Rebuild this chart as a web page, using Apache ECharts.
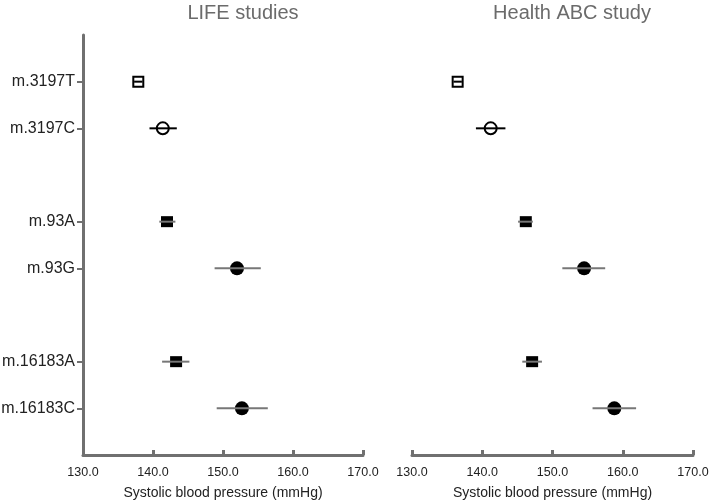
<!DOCTYPE html>
<html>
<head>
<meta charset="utf-8">
<script src="https://cdn.jsdelivr.net/npm/echarts@6/dist/echarts.min.js"></script>
<style>html,body{margin:0;padding:0;background:#fff}#c{width:709px;height:500px}</style>
</head>
<body>
<div id="c"></div>
<script>
// ---- data ----
const yLabels = ['', 'm.3197T', 'm.3197C', '', 'm.93A', 'm.93G', '', 'm.16183A', 'm.16183C', ''];
const categories = ['m.3197T', 'm.3197C', 'm.93A', 'm.93G', 'm.16183A', 'm.16183C'];
const lifeMean = [137.9, 141.4, 142.0, 152.0, 143.3, 152.7];
const lifeLow  = [137.3, 139.5, 140.9, 148.8, 141.3, 149.1];
const lifeHigh = [138.5, 143.4, 143.2, 155.4, 145.2, 156.4];
const abcMean  = [136.5, 141.2, 146.2, 154.5, 147.1, 158.8];
const abcLow   = [135.9, 139.1, 145.1, 151.4, 145.7, 155.7];
const abcHigh  = [137.1, 143.3, 147.2, 157.5, 148.5, 161.9];
const panelTitles = ['LIFE studies', 'Health ABC study'];
const xName = 'Systolic blood pressure (mmHg)';

// ---- styles ----
const markerStyle = {
  'm.3197T':  {symbol: 'rect',   size: [10, 10], open: true},
  'm.3197C':  {symbol: 'circle', size: 12, open: true},
  'm.93A':    {symbol: 'rect',   size: [12, 11], open: false},
  'm.93G':    {symbol: 'circle', size: 14, open: false},
  'm.16183A': {symbol: 'rect',   size: [12, 11], open: false},
  'm.16183C': {symbol: 'circle', size: 14, open: false}
};
const FONT = 'Liberation Sans, Arial, sans-serif';
const AX = '#707070';

function rowIdx(c) { return yLabels.indexOf(c); }

function scatterData(means) {
  return categories.map((c, i) => {
    const s = markerStyle[c];
    return {
      value: [means[i], rowIdx(c)],
      symbol: s.symbol,
      symbolSize: s.size,
      itemStyle: s.open ? {color: '#fff', borderColor: '#000', borderWidth: 2, opacity: 1}
                        : {color: '#000', borderWidth: 0, opacity: 1}
    };
  });
}
function barData(lows, highs) {
  return categories.map((c, i) => [lows[i], highs[i], rowIdx(c), markerStyle[c].open ? 1 : 0]);
}
function renderBar(params, api) {
  const p1 = api.coord([api.value(0), api.value(2)]);
  const p2 = api.coord([api.value(1), api.value(2)]);
  const open = api.value(3) === 1;
  return {
    type: 'line',
    shape: {x1: p1[0], y1: p1[1], x2: p2[0], y2: p2[1]},
    style: {stroke: open ? '#000' : '#777', lineWidth: 2}
  };
}

const grids = [
  {left: 83, width: 280, top: 35, height: 420, outerBoundsMode: 'none', containLabel: false},
  {left: 412, width: 281, top: 35, height: 420, outerBoundsMode: 'none', containLabel: false}
];

const chart = echarts.init(document.getElementById('c'));
const option = {
  animation: false,
  title: [
    {text: panelTitles[0], left: 238, top: -2, textAlign: 'center',
     textStyle: {fontFamily: FONT, fontSize: 20, fontWeight: 'normal', color: '#6b6b6b'}},
    {text: panelTitles[1], left: 567, top: -2, textAlign: 'center',
     textStyle: {fontFamily: FONT, fontSize: 20, fontWeight: 'normal', color: '#6b6b6b'}}
  ],
  grid: grids,
  xAxis: [0, 1].map(g => ({
    gridIndex: g, type: 'value', min: 130, max: 170, interval: 10,
    name: xName, nameLocation: 'middle', nameGap: 31,
    nameTextStyle: {fontFamily: FONT, fontSize: 14, color: '#222'},
    axisLine: {show: true, lineStyle: {color: AX, width: 3}},
    axisTick: {show: true, inside: true, length: 5, lineStyle: {color: AX, width: 3}},
    axisLabel: {fontFamily: FONT, fontSize: 12.5, color: '#222', margin: 11,
      formatter: v => v.toFixed(1)},
    splitLine: {show: false}
  })),
  yAxis: [0, 1].map(g => ({
    gridIndex: g, type: 'category', data: yLabels, boundaryGap: false, inverse: true,
    show: g === 0,
    axisLine: {show: true, lineStyle: {color: AX, width: 3}},
    axisTick: {show: true, length: 6, lineStyle: {color: AX, width: 2},
      interval: (i, v) => v !== ''},
    axisLabel: {fontFamily: FONT, fontSize: 16, color: '#222', margin: 8, interval: 0},
    splitLine: {show: false}
  })),
  series: [
    {type: 'scatter', xAxisIndex: 0, yAxisIndex: 0, data: scatterData(lifeMean), z: 2},
    {type: 'scatter', xAxisIndex: 1, yAxisIndex: 1, data: scatterData(abcMean), z: 2},
    {type: 'custom', xAxisIndex: 0, yAxisIndex: 0, data: barData(lifeLow, lifeHigh),
     renderItem: renderBar, z: 3},
    {type: 'custom', xAxisIndex: 1, yAxisIndex: 1, data: barData(abcLow, abcHigh),
     renderItem: renderBar, z: 3}
  ]
};
chart.setOption(option);
</script>
</body>
</html>
